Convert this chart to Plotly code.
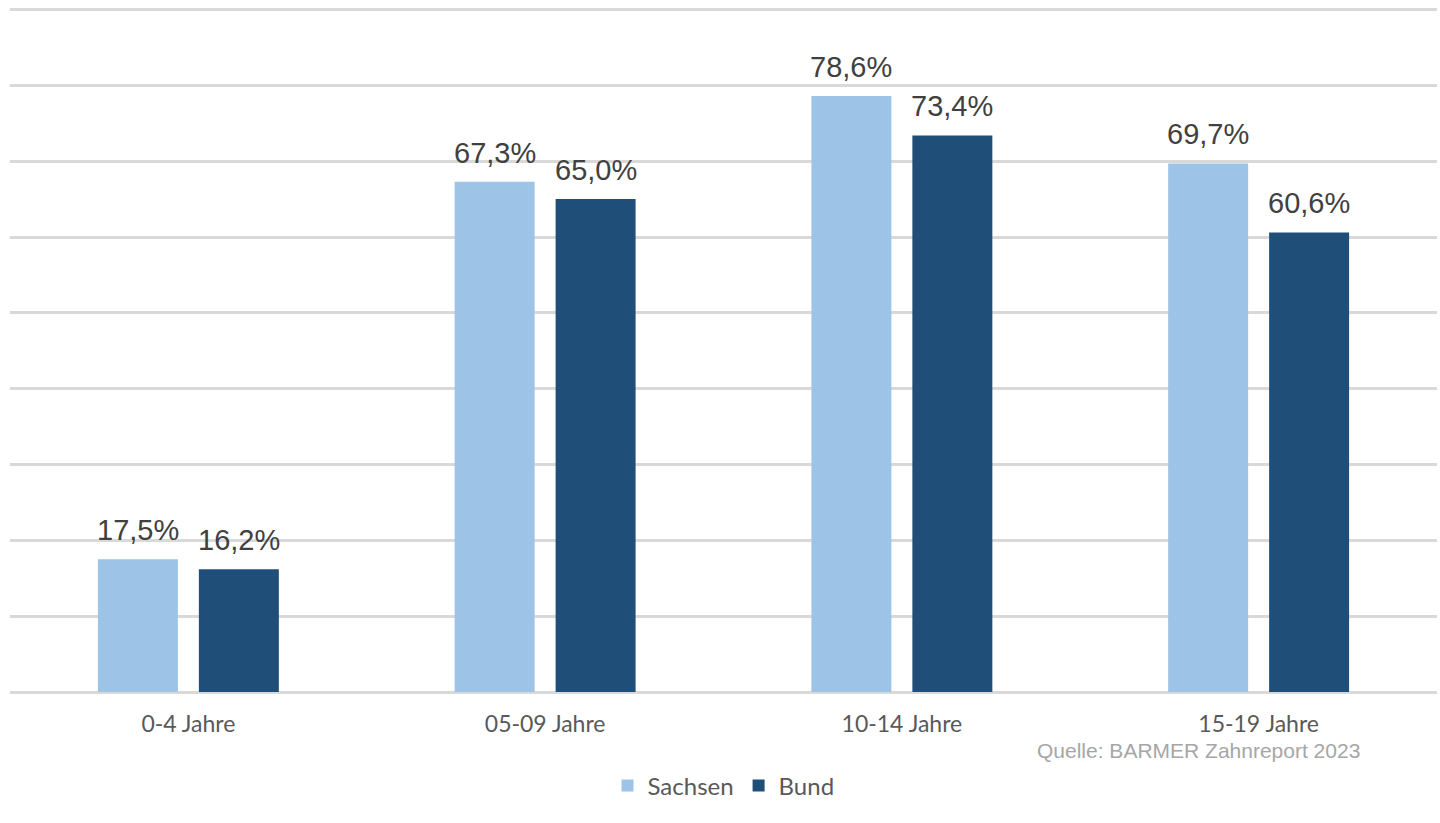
import plotly.graph_objects as go

categories = ["0-4 Jahre", "05-09 Jahre", "10-14 Jahre", "15-19 Jahre"]
sachsen = [17.5, 67.3, 78.6, 69.7]
bund = [16.2, 65.0, 73.4, 60.6]
series_names = ["Sachsen", "Bund"]
source_text = "Quelle: BARMER Zahnreport 2023"


def fmt(vals):
    return [f"{v:.1f}%".replace(".", ",") for v in vals]


fig = go.Figure()
colors = ["#9DC3E6", "#1F4E79"]
for name, vals, color in [(series_names[0], sachsen, colors[0]), (series_names[1], bund, colors[1])]:
    fig.add_trace(go.Bar(
        x=categories, y=vals, name=name,
        marker=dict(color=color, line=dict(width=0)),
    ))

# value labels placed above the bars
for vals, shift in [(sachsen, -50.5), (bund, 50.5)]:
    for cat, v, t in zip(categories, vals, fmt(vals)):
        fig.add_annotation(x=cat, y=v, text=t, showarrow=False, xshift=shift, yshift=11,
                           xanchor="center", yanchor="bottom",
                           font=dict(family="Liberation Sans, Arial, sans-serif", size=29, color="#404040"))

fig.add_annotation(text=source_text, xref="paper", yref="paper", x=(1362 - 10) / 1427,
                   y=-(750 - 692) / 682, xanchor="right", yanchor="middle", showarrow=False,
                   font=dict(family="Liberation Sans, Arial, sans-serif", size=21, color="#a6a6a6"))

fig.update_layout(
    width=1440, height=823,
    margin=dict(l=10, r=3, t=8, b=131),
    paper_bgcolor="white", plot_bgcolor="white",
    barmode="group", bargap=0.434, bargroupgap=0.208,
    showlegend=True,
    legend=dict(orientation="h", x=0.5, xanchor="center", yref="container", y=0.045, yanchor="middle",
                font=dict(family="Lato, sans-serif", size=24, color="#595959"),
                traceorder="normal"),
    xaxis=dict(showgrid=False, showline=False, ticks="", ticklabelstandoff=16,
               tickfont=dict(family="Lato, sans-serif", size=23, color="#595959")),
    yaxis=dict(range=[0, 90.2], dtick=10, showticklabels=False, showgrid=True,
               gridcolor="#d9d9d9", gridwidth=2.5, zeroline=True, zerolinecolor="#d9d9d9",
               zerolinewidth=2.5, showline=False, ticks=""),
)

fig.write_html("out.html")
